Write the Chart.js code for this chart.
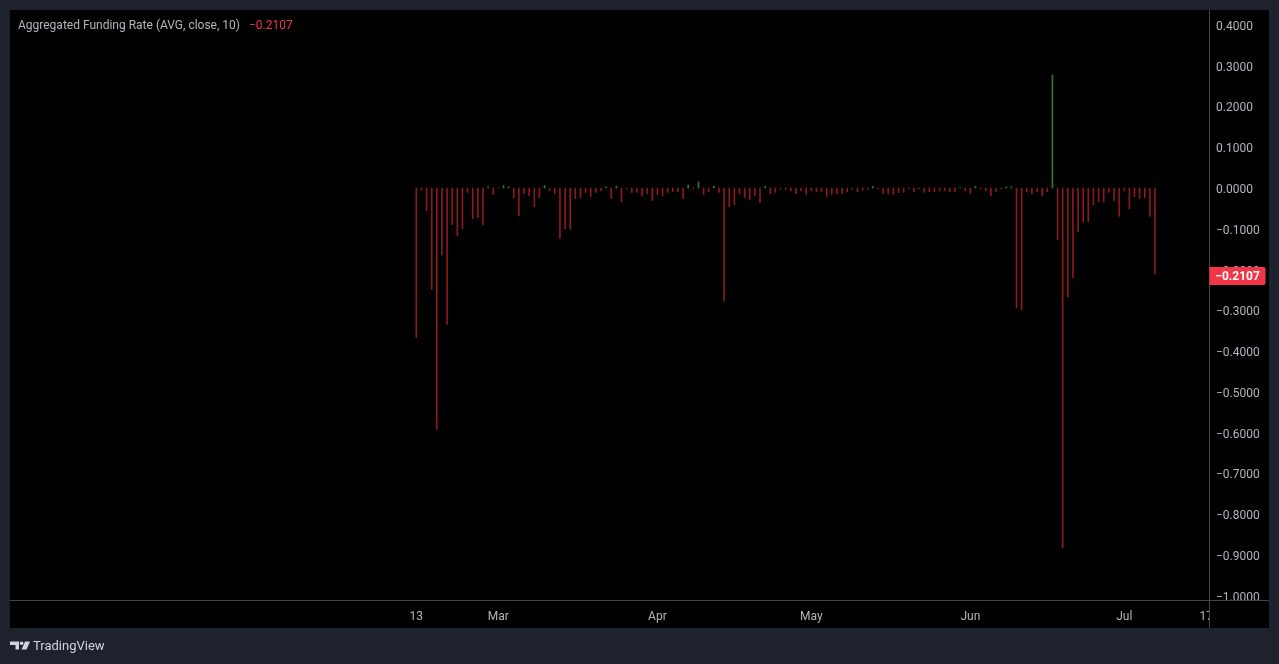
<!DOCTYPE html>
<html>
<head>
<meta charset="utf-8">
<script src="https://cdn.jsdelivr.net/npm/chart.js@4.4.1/dist/chart.umd.min.js"></script>
<style>
  html, body { margin: 0; padding: 0; background: #1e222d; overflow: hidden; }
  #wrap { position: absolute; left: 0; top: 0; width: 1279px; height: 664px; }
</style>
</head>
<body>
<div id="wrap"><canvas id="c" width="1279" height="664"></canvas></div>
<script>
// ---- data (daily values, starting Feb 13) ----
const seriesTitle = 'Aggregated Funding Rate (AVG, close, 10)';
const lastValue = -0.2107;
const fundingRate = [
  -0.367, -0.005, -0.056, -0.249, -0.592, -0.164, -0.335, -0.090, -0.117, -0.100,
  -0.011, -0.075, -0.073, -0.090,  0.003, -0.016, -0.001,  0.006,  0.003, -0.024,
  -0.068, -0.014, -0.019, -0.046, -0.024,  0.006, -0.006, -0.014, -0.124, -0.100,
  -0.102, -0.026, -0.024, -0.011, -0.021, -0.011, -0.007,  0.003, -0.026,  0.004,
  -0.034, -0.002, -0.011, -0.011, -0.019, -0.014, -0.031, -0.016, -0.019, -0.011,
  -0.009, -0.009, -0.026,  0.007, -0.002,  0.015, -0.016, -0.009,  0.004, -0.011,
  -0.277, -0.046, -0.041, -0.014, -0.024, -0.029, -0.019, -0.036,  0.004, -0.014,
  -0.011, -0.003, -0.004, -0.007, -0.014, -0.007, -0.016, -0.007, -0.009, -0.009,
  -0.021, -0.016, -0.014, -0.014, -0.009, -0.003, -0.009, -0.005, -0.003,  0.004,
  -0.002, -0.014, -0.014, -0.016, -0.011, -0.011, -0.002, -0.009, -0.002, -0.011,
  -0.009, -0.009, -0.007, -0.007, -0.009, -0.009,  0.001, -0.007, -0.014,  0.004,
  -0.002, -0.007, -0.019, -0.009, -0.002,  0.003,  0.003, -0.294, -0.299, -0.009,
  -0.014, -0.009, -0.019, -0.009,  0.277, -0.127, -0.883, -0.267, -0.220, -0.107,
  -0.083, -0.083, -0.041, -0.034, -0.034, -0.011, -0.031, -0.070, -0.007, -0.051,
  -0.021, -0.026, -0.024, -0.070, -0.2107
];
const xTickDays   = [0, 16, 47, 77, 108, 138, 154];
const xTickLabels = ['13', 'Mar', 'Apr', 'May', 'Jun', 'Jul', '17'];
const yTickValues = [0.4, 0.3, 0.2, 0.1, 0, -0.1, -0.2, -0.3, -0.4, -0.5, -0.6, -0.7, -0.8, -0.9, -1.0];

// ---- helpers ----
const fmt = v => (Math.abs(v) < 1e-9 ? '0.0000' : (v < 0 ? '\u2212' : '') + Math.abs(v).toFixed(4));
const FONT = 'Roboto, "Open Sans", sans-serif';
const RED = '#f23645';

const bgPlugin = {
  id: 'tvFrame',
  beforeDraw(chart) {
    const ctx = chart.ctx;
    ctx.save();
    ctx.fillStyle = '#1e222d';
    ctx.fillRect(0, 0, chart.width, chart.height);
    ctx.fillStyle = '#000000';
    ctx.fillRect(10, 10, 1259, 618);
    ctx.restore();
  },
  afterDraw(chart) {
    const ctx = chart.ctx;
    const area = chart.chartArea;
    ctx.save();
    // clip labels spilling into the corner box
    ctx.fillStyle = '#000000';
    ctx.fillRect(area.right + 0.5, area.bottom + 0.5, 1269 - area.right - 0.5, 628 - area.bottom - 0.5);
    // separators
    ctx.strokeStyle = '#434651';
    ctx.lineWidth = 1;
    ctx.beginPath();
    ctx.moveTo(10, Math.round(area.bottom) + 0.5);
    ctx.lineTo(1269, Math.round(area.bottom) + 0.5);
    ctx.moveTo(Math.round(area.right) + 0.5, 10);
    ctx.lineTo(Math.round(area.right) + 0.5, 628);
    ctx.stroke();

    // title
    ctx.font = '12px ' + FONT;
    ctx.textBaseline = 'middle';
    ctx.textAlign = 'left';
    ctx.fillStyle = '#b2b5be';
    ctx.fillText(seriesTitle, 18, 25.5);
    const w = ctx.measureText(seriesTitle).width;
    ctx.fillStyle = RED;
    ctx.fillText(fmt(lastValue), 18 + w + 9, 25.5);

    // last value label on price scale
    const yPix = chart.scales.y.getPixelForValue(lastValue);
    const bx = Math.round(area.right) + 0.5, bw = 56, bh = 18;
    const by = Math.round(yPix - 7);
    ctx.fillStyle = RED;
    ctx.beginPath();
    ctx.moveTo(bx, by);
    ctx.lineTo(bx + bw - 2, by);
    ctx.quadraticCurveTo(bx + bw, by, bx + bw, by + 2);
    ctx.lineTo(bx + bw, by + bh - 2);
    ctx.quadraticCurveTo(bx + bw, by + bh, bx + bw - 2, by + bh);
    ctx.lineTo(bx, by + bh);
    ctx.closePath();
    ctx.fill();
    ctx.fillStyle = '#ffffff';
    ctx.font = 'bold 12px ' + FONT;
    ctx.textAlign = 'center';
    ctx.fillText(fmt(lastValue), bx + bw / 2, by + bh / 2 + 0.5);

    // TradingView logo + text
    ctx.fillStyle = '#d1d4dc';
    ctx.beginPath();
    ctx.moveTo(10, 641.5); ctx.lineTo(19, 641.5); ctx.lineTo(19, 649.5); ctx.lineTo(15.5, 649.5);
    ctx.lineTo(15.5, 645); ctx.lineTo(10, 645); ctx.closePath(); ctx.fill();
    ctx.beginPath(); ctx.arc(21.6, 643.3, 1.8, 0, Math.PI * 2); ctx.fill();
    ctx.beginPath();
    ctx.moveTo(25, 641.5); ctx.lineTo(30, 641.5); ctx.lineTo(26.5, 649.5); ctx.lineTo(21.5, 649.5); ctx.closePath(); ctx.fill();
    ctx.font = '13px ' + FONT;
    ctx.textAlign = 'left';
    ctx.fillStyle = '#d1d4dc';
    ctx.fillText('TradingView', 33, 647);
    ctx.restore();
  }
};

new Chart(document.getElementById('c'), {
  type: 'bar',
  data: {
    datasets: [{
      data: fundingRate.map((v, i) => ({ x: i, y: v })),
      backgroundColor: ctx => (ctx.raw && ctx.raw.y >= 0 ? '#2f7d22' : '#8a1a1d'),
      borderWidth: 0,
      barThickness: 1
    }]
  },
  options: {
    responsive: false,
    animation: false,
    devicePixelRatio: 1,
    layout: { padding: { left: 10, top: 10, right: 10, bottom: 36 } },
    plugins: { legend: { display: false }, tooltip: { enabled: false } },
    scales: {
      x: {
        type: 'linear',
        offset: false,
        min: -79.2,
        max: 154.52,
        grid: { display: false, drawTicks: false, offset: false },
        border: { display: false },
        afterBuildTicks: s => { s.ticks = xTickDays.map(v => ({ value: v })); },
        afterFit: s => { s.height = 28; s.paddingLeft = 0; s.paddingRight = 0; },
        ticks: {
          autoSkip: false,
          maxRotation: 0,
          padding: 10,
          color: '#b2b5be',
          font: { family: FONT, size: 12 },
          callback: v => { const k = xTickDays.indexOf(v); return k >= 0 ? xTickLabels[k] : ''; }
        }
      },
      y: {
        position: 'right',
        min: -1.011,
        max: 0.4368,
        grid: { display: false, drawTicks: false },
        border: { display: false },
        afterBuildTicks: s => { s.ticks = yTickValues.map(v => ({ value: v })); },
        afterFit: s => { s.width = 60; s.paddingTop = 0; s.paddingBottom = 0; },
        ticks: {
          padding: 7,
          labelOffset: 2,
          color: '#b2b5be',
          font: { family: FONT, size: 12 },
          callback: v => fmt(v)
        }
      }
    }
  },
  plugins: [bgPlugin]
});
</script>
</body>
</html>
